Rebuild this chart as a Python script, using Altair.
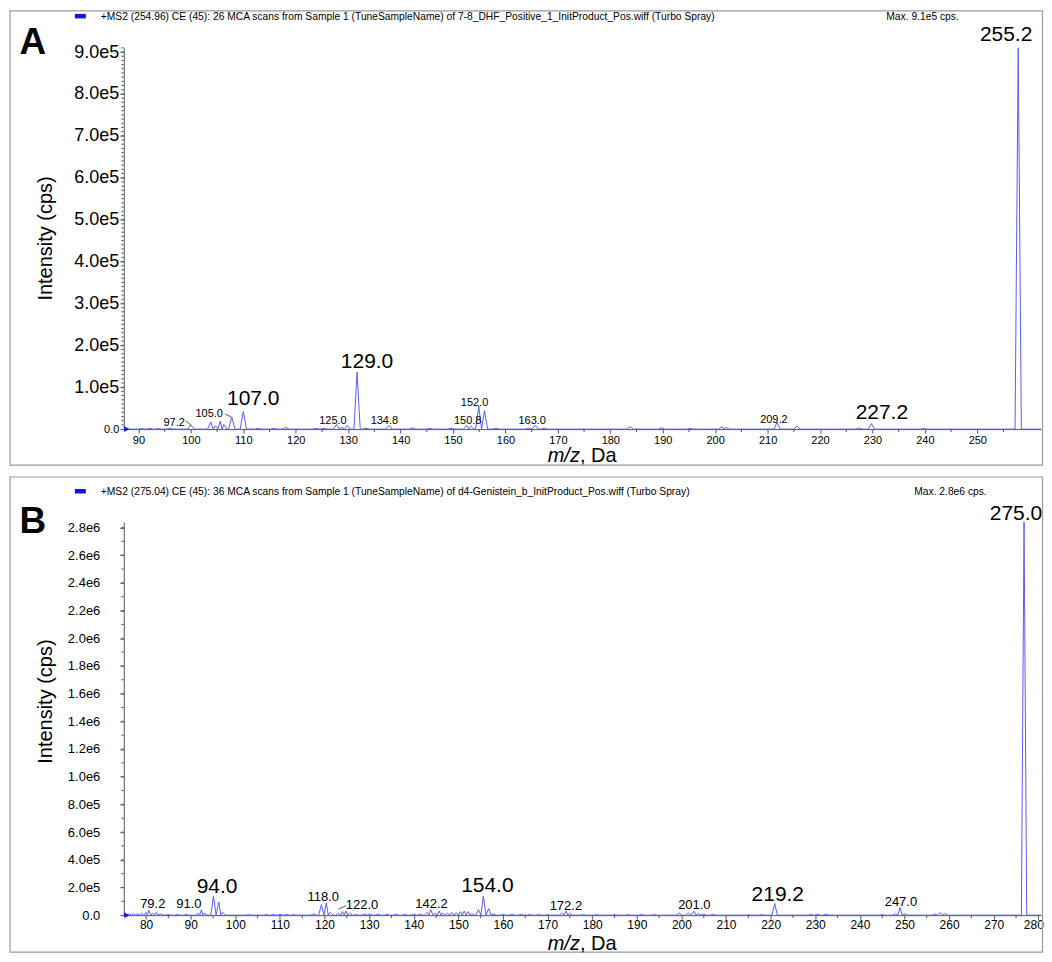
import altair as alt
import pandas as pd

FONT = "Liberation Sans"
LINE_COLOR = "#5a5aff"
MARK_BLUE = "#1414e6"
AXIS_COLOR = "#555555"

# ---------------- Panel A data ----------------
A_header = "+MS2 (254.96) CE (45): 26 MCA scans from Sample 1 (TuneSampleName) of 7-8_DHF_Positive_1_InitProduct_Pos.wiff (Turbo Spray)"
A_max = "Max. 9.1e5 cps."
A_xdomain = [87.2, 262.15]
A_ydomain = [0, 910000]
A_xticks = [90, 100, 110, 120, 130, 140, 150, 160, 170, 180, 190, 200, 210, 220, 230, 240, 250]
A_yticks = [0, 100000, 200000, 300000, 400000, 500000, 600000, 700000, 800000, 900000]
A_peak_mz = [90.6, 92.2, 93.8, 96.0, 100.0, 103.8, 104.7, 105.6, 106.3, 107.8, 110.0, 112.8, 115.8,
             118.1, 123.9, 125.4, 127.8, 128.8, 129.8, 131.7, 133.4, 137.8, 142.3, 145.6, 149.6, 152.6,
             153.4, 154.9, 156.0, 158.2, 164.4, 165.7, 167.4, 183.8, 189.8, 195.2, 201.3, 202.1, 211.8,
             215.6, 227.4, 229.8, 239.7, 257.8]
A_peak_int = [1500, 1500, 1500, 1500, 10000, 17000, 8000, 19000, 11000, 29000, 42000, 2000, 2000,
              4000, 2000, 2000, 11000, 4000, 9000, 136000, 2000, 9000, 3000, 2000, 2000, 9000,
              7000, 55000, 44000, 2000, 2000, 9000, 2000, 6000, 3000, 1500, 6000, 4000, 16000,
              7000, 3000, 13000, 1500, 910000]
A_ann_text = ["97.2", "105.0", "107.0", "125.0", "129.0", "134.8", "150.8", "152.0", "163.0", "209.2", "227.2", "255.2"]
A_ann_mz = [96.8, 103.5, 111.9, 127.1, 133.6, 136.9, 152.8, 154.1, 165.1, 211.2, 231.8, 255.5]
A_ann_int = [15000, 36000, 71000, 19000, 160000, 19000, 19000, 62000, 19000, 21000, 39000, 940000]
A_ann_big = [0, 0, 1, 0, 1, 0, 0, 0, 0, 0, 1, 1]
A_lead_mz = [99.05, 106.5]
A_lead_int = [19000, 36000]
A_lead_mz2 = [100.0, 107.7]
A_lead_int2 = [10000, 29000]

# ---------------- Panel B data ----------------
B_header = "+MS2 (275.04) CE (45): 36 MCA scans from Sample 1 (TuneSampleName) of d4-Genistein_b_InitProduct_Pos.wiff (Turbo Spray)"
B_max = "Max. 2.8e6 cps."
B_xdomain = [75.0, 280.6]
B_ydomain = [0, 2840000]
B_xticks = [80, 90, 100, 110, 120, 130, 140, 150, 160, 170, 180, 190, 200, 210, 220, 230, 240, 250, 260, 270, 280]
B_yticks = [0, 200000, 400000, 600000, 800000, 1000000, 1200000, 1400000, 1600000, 1800000,
            2000000, 2200000, 2400000, 2600000, 2800000]
B_peak_mz = [76.3, 77.2, 78.0, 79.0, 80.0, 80.6, 81.5, 82.3, 83.2, 85.0, 87.0, 89.0, 91.7, 92.4, 93.1,
             95.1, 96.3, 97.2, 103.0, 107.0, 108.5, 110.0, 111.5, 113.0, 117.5, 119.3, 120.4, 121.3,
             123.2, 124.0, 124.8, 125.6, 127.0, 129.0, 130.2, 132.0, 134.0, 136.0, 138.0, 140.0, 141.5,
             143.0, 143.8, 144.8, 145.7, 146.5, 147.5, 148.5, 149.5, 150.5, 151.3, 152.2, 153.0, 154.5,
             155.6, 156.8, 157.8, 160.0, 162.0, 164.0, 166.0, 168.0, 170.0, 173.2, 174.1, 175.0, 178.0,
             181.0, 185.0, 188.0, 191.0, 194.0, 199.5, 201.5, 202.8, 203.8, 205.0, 207.0, 215.0, 218.0,
             220.9, 229.0, 230.5, 232.4, 245.0, 248.0, 249.0, 250.0, 256.8, 258.0, 259.0, 276.8]
B_peak_int = [10000, 12000, 10000, 15000, 20000, 36000, 15000, 20000, 10000, 5000, 5000, 5000, 15000, 40000, 15000,
              137000, 96000, 20000, 4000, 5000, 5000, 6000, 5000, 4000, 10000, 77000, 89000, 20000,
              15000, 25000, 30000, 15000, 5000, 8000, 10000, 8000, 6000, 8000, 5000, 6000, 8000,
              20000, 40000, 15000, 30000, 15000, 15000, 20000, 18000, 25000, 30000, 25000, 10000, 40000,
              137000, 48000, 10000, 5000, 6000, 5000, 6000, 5000, 4000, 15000, 29000, 12000, 4000,
              4000, 5000, 5000, 6000, 4000, 15000, 15000, 29000, 12000, 8000, 6000, 3000, 4000,
              84000, 5000, 7000, 6000, 4000, 10000, 55000, 10000, 8000, 19000, 12000, 2840000]
B_ann_text = ["79.2", "91.0", "94.0", "118.0", "122.0", "142.2", "154.0", "172.2", "201.0", "219.2", "247.0", "275.0"]
B_ann_mz = [81.5, 89.6, 95.9, 119.7, 128.4, 144.0, 156.5, 174.1, 202.9, 221.6, 249.2, 275.0]
B_ann_int = [77000, 77000, 205000, 128000, 72000, 77000, 207000, 68000, 70000, 144000, 97000, 2894000]
B_ann_big = [0, 0, 1, 0, 0, 0, 1, 0, 0, 1, 0, 1]
B_lead_mz = [123.1]
B_lead_int = [43000]
B_lead_mz2 = [124.8]
B_lead_int2 = [68000]


def spectrum_frame(mz, inten, dom, hw):
    pts = [(dom[0], 0.0)]
    n = len(mz)
    for i, (c, h) in enumerate(zip(mz, inten)):
        left = c - hw
        right = c + hw
        if i > 0:
            left = max(left, (mz[i - 1] + c) / 2)
        if i < n - 1:
            right = min(right, (mz[i + 1] + c) / 2)
        pts += [(left, 0.0), (c, h), (right, 0.0)]
    pts.append((dom[1], 0.0))
    df = pd.DataFrame(pts, columns=["mz", "intensity"])
    df["order"] = range(len(df))
    return df


def one(**kw):
    return pd.DataFrame({k: [v] for k, v in kw.items()})


def panel(letter, header, maxtxt, peak_mz, peak_int, xdom, ydom, xticks, yticks,
          ann_text, ann_mz, ann_int, ann_big, lead, W, H, cfg):
    xs = alt.Scale(domain=xdom, nice=False, zero=False)
    ys = alt.Scale(domain=ydom, nice=False, zero=True)
    spec = spectrum_frame(peak_mz, peak_int, xdom, 0.6)

    y_label_size = {"condition": {"test": "datum.value === 0", "value": cfg["zero_size"]},
                    "value": cfg["ylab_size"]}
    x_label_off = {"condition": {"test": "datum.value === %d" % xticks[-1], "value": cfg["last_off"]},
                   "value": 0}
    xaxis = alt.Axis(values=xticks, format="d", labelFontSize=cfg["xlab_size"], labelFont=FONT,
                     tickSize=4, labelPadding=cfg["xlab_pad"], domainColor=AXIS_COLOR, tickColor=AXIS_COLOR,
                     labelColor="black", grid=False, labelFlush=False, labelOverlap=False, title=None,
                     labelOffset=x_label_off)
    yaxis = alt.Axis(values=yticks,
                     labelExpr="datum.value === 0 ? '0.0' : replace(format(datum.value, '.1e'), 'e+', 'e')",
                     labelFontSize=y_label_size, labelFont=FONT, tickSize=4,
                     labelPadding=cfg["ylab_pad"], domainColor=AXIS_COLOR, tickColor=AXIS_COLOR,
                     labelColor="black", grid=False, labelFlush=False, labelOverlap=False, title=None)

    def X(field):
        return alt.X(field, scale=xs, axis=xaxis, title=None)

    def Y(field):
        return alt.Y(field, scale=ys, axis=yaxis, title=None)

    base = alt.Chart(spec).mark_line(color=LINE_COLOR, strokeWidth=1).encode(
        x=X("mz:Q"), y=Y("intensity:Q"), order="order:Q")

    # minor ticks
    xminor = pd.DataFrame({"mz": [v for v in range(int(xdom[0]) + 1, int(xdom[1]) + 1) if v % 5 == 0 and v % 10 != 0]})
    xmin_rules = alt.Chart(xminor).mark_rule(color=AXIS_COLOR, strokeWidth=1).encode(
        x=X("mz:Q"), y=alt.value(H), y2=alt.value(H + 3))
    yminor = pd.DataFrame({"intensity": [i * cfg["yminor_step"] for i in range(1, int(ydom[1] / cfg["yminor_step"]) + 1)]})
    ymin_rules = alt.Chart(yminor).mark_rule(color=AXIS_COLOR, strokeWidth=1).encode(
        y=Y("intensity:Q"), x=alt.value(-2.5), x2=alt.value(0))

    ann = pd.DataFrame({"t": ann_text, "mz": ann_mz, "intensity": ann_int, "big": ann_big})
    big_txt = alt.Chart(ann[ann.big == 1]).mark_text(font=FONT, fontSize=21, color="black", baseline="middle").encode(
        x=X("mz:Q"), y=Y("intensity:Q"), text="t:N")
    small_txt = alt.Chart(ann[ann.big == 0]).mark_text(font=FONT, fontSize=cfg["small_size"], color="black",
                                                       baseline="middle").encode(
        x=X("mz:Q"), y=Y("intensity:Q"), text="t:N")
    leaders = alt.Chart(pd.DataFrame(dict(zip(["mz", "intensity", "mz2", "intensity2"], lead)))).mark_rule(
        color="#333333", strokeWidth=0.8).encode(
        x=X("mz:Q"), y=Y("intensity:Q"), x2="mz2:Q", y2="intensity2:Q")

    marker = alt.Chart(one(intensity=0)).mark_point(shape="triangle-right", filled=True, size=35, color=MARK_BLUE,
                                                    opacity=1).encode(
        x=alt.value(3), y=Y("intensity:Q"))

    frame = alt.Chart(one(z=0)).mark_rect(filled=False, stroke="#9a9a9a", strokeWidth=1.2).encode(
        x=alt.value(-114), x2=alt.value(W + 1.5), y=alt.value(cfg["frame_top"]), y2=alt.value(H + cfg["frame_bottom"]))

    swatch = alt.Chart(one(z=0)).mark_rect(color=MARK_BLUE).encode(
        x=alt.value(-49), x2=alt.value(-38), y=alt.value(cfg["header_y"] - 3), y2=alt.value(cfg["header_y"] + 1.5))
    head = alt.Chart(one(t=header)).mark_text(font=FONT, fontSize=10.3, align="left", baseline="middle",
                                               color="black").encode(
        x=alt.value(-23), y=alt.value(cfg["header_y"]), text="t:N")
    maxt = alt.Chart(one(t=maxtxt)).mark_text(font=FONT, fontSize=10.3, align="left", baseline="middle",
                                              color="black").encode(
        x=alt.value(cfg["max_x"]), y=alt.value(cfg["header_y"]), text="t:N")
    let = alt.Chart(one(t=letter)).mark_text(font=FONT, fontSize=37, fontWeight="bold", align="center",
                                             baseline="middle", color="black").encode(
        x=alt.value(-91), y=alt.value(cfg["letter_y"]), text="t:N")
    ytitle = alt.Chart(one(t="Intensity (cps)")).mark_text(font=FONT, fontSize=20, angle=270, align="center",
                                                          baseline="middle", color="black").encode(
        x=alt.value(-78), y=alt.value(cfg["ytitle_y"]), text="t:N")
    xt1 = alt.Chart(one(t="m/z")).mark_text(font=FONT, fontSize=20, fontStyle="italic", align="right",
                                            baseline="alphabetic", color="black").encode(
        x=alt.value(cfg["xtitle_x"]), y=alt.value(H + cfg["xtitle_base"]), text="t:N")
    xt2 = alt.Chart(one(t=", Da")).mark_text(font=FONT, fontSize=20, align="left",
                                             baseline="alphabetic", color="black").encode(
        x=alt.value(cfg["xtitle_x"]), y=alt.value(H + cfg["xtitle_base"]), text="t:N")

    return alt.layer(frame, base, xmin_rules, ymin_rules, leaders, big_txt, small_txt, marker,
                     swatch, head, maxt, let, ytitle, xt1, xt2).properties(width=W, height=H)


cfgA = dict(zero_size=11, ylab_size=18, xlab_size=11, xlab_pad=1, ylab_pad=1, yminor_step=10000, small_size=11,
            frame_top=-37, frame_bottom=36, header_y=-31, max_x=764, letter_y=-5, ytitle_y=191,
            xtitle_x=457, xtitle_base=33, last_off=0)
cfgB = dict(zero_size=13, ylab_size=13, xlab_size=12, xlab_pad=0, ylab_pad=20, yminor_step=100000, small_size=13,
            frame_top=-45, frame_bottom=37, header_y=-30, max_x=792, letter_y=0, ytitle_y=180,
            xtitle_x=457, xtitle_base=34.5, last_off=-5)

chartA = panel("A", A_header, A_max, A_peak_mz, A_peak_int, A_xdomain, A_ydomain, A_xticks, A_yticks,
               A_ann_text, A_ann_mz, A_ann_int, A_ann_big, [A_lead_mz, A_lead_int, A_lead_mz2, A_lead_int2],
               919, 382, cfgA)
chartB = panel("B", B_header, B_max, B_peak_mz, B_peak_int, B_xdomain, B_ydomain, B_xticks, B_yticks,
               B_ann_text, B_ann_mz, B_ann_int, B_ann_big, [B_lead_mz, B_lead_int, B_lead_mz2, B_lead_int2],
               919, 394, cfgB)

chart = (alt.vconcat(chartA, chartB, spacing=8)
         .properties(padding=0)
         .configure(font=FONT, padding=0)
         .configure_view(stroke="transparent"))

chart.save("out.html", embed_options={"renderer": "svg", "actions": False})
